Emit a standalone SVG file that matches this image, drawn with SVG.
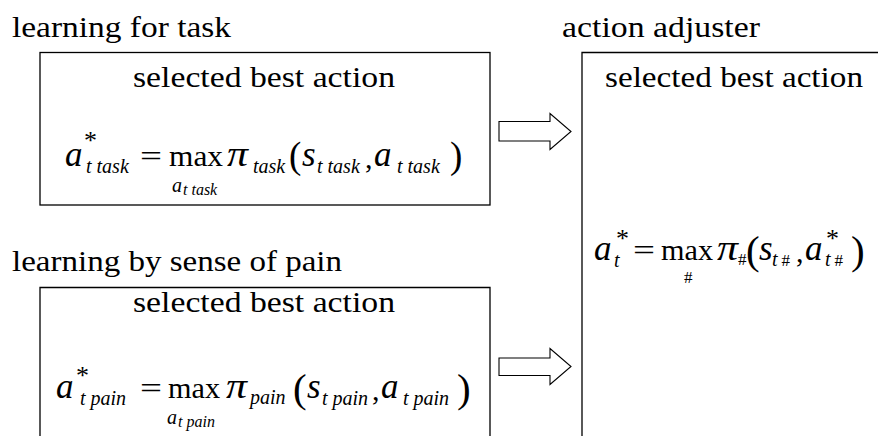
<svg xmlns="http://www.w3.org/2000/svg" width="878" height="436" viewBox="0 0 878 436">
<style>
text{font-family:'Liberation Serif','Times New Roman',serif;fill:#000}
.t{font-size:29px}
.m{font-size:30px}
.v{font-size:35px;font-style:italic}
.s{font-size:20px;font-style:italic}
.ss{font-size:16px;font-style:italic}
.h{font-size:17px;font-style:normal}
.st{font-size:26px;font-style:normal}
.p{font-size:37px}
.pb{font-size:41px}
.box{fill:none;stroke:#000;stroke-width:1.3}
.arr{fill:#fff;stroke:#000;stroke-width:1.1}
</style>
<rect width="878" height="436" fill="#fff"/>
<g id="task">
<text class="t" x="12" y="37" textLength="219" lengthAdjust="spacingAndGlyphs">learning for task</text>
<rect class="box" x="40" y="52.5" width="450" height="152.5"/>
<text class="t" x="133" y="87" textLength="262" lengthAdjust="spacingAndGlyphs">selected best action</text>
<text class="v" x="65" y="166">a</text>
<text class="s" x="86" y="173">t task<tspan class="st" x="84" y="149">*</tspan></text>
<text class="m" x="140" y="166" textLength="22" lengthAdjust="spacingAndGlyphs">=</text>
<text class="m" x="169" y="166" textLength="54" lengthAdjust="spacingAndGlyphs">max</text>
<text class="s" x="172" y="192">a</text>
<text class="ss" x="183" y="195">t task</text>
<text class="v" x="227" y="166" textLength="21" lengthAdjust="spacingAndGlyphs">π</text>
<text class="s" x="253" y="173">task</text>
<text class="p" x="289" y="168">(</text>
<text class="v" x="302" y="166">s</text>
<text class="s" x="317" y="173">t task</text>
<text class="m" x="365" y="168">,</text>
<text class="v" x="374" y="166">a</text>
<text class="s" x="397" y="173">t task</text>
<text class="p" x="450" y="168">)</text>
</g>
<g id="pain">
<text class="t" x="12" y="271" textLength="330" lengthAdjust="spacingAndGlyphs">learning by sense of pain</text>
<path class="box" d="M40 437 V287.5 H490 V437"/>
<text class="t" x="133" y="312" textLength="262" lengthAdjust="spacingAndGlyphs">selected best action</text>
<text class="v" x="56" y="398">a</text>
<text class="s" x="80" y="405">t pain<tspan class="st" x="76" y="384">*</tspan></text>
<text class="m" x="140" y="398" textLength="22" lengthAdjust="spacingAndGlyphs">=</text>
<text class="m" x="168" y="398" textLength="52" lengthAdjust="spacingAndGlyphs">max</text>
<text class="s" x="167" y="424">a</text>
<text class="ss" x="178" y="427">t pain</text>
<text class="v" x="226" y="398" textLength="21" lengthAdjust="spacingAndGlyphs">π</text>
<text class="s" x="250" y="404">pain</text>
<text class="pb" x="293" y="402">(</text>
<text class="v" x="307" y="398">s</text>
<text class="s" x="322" y="405">t pain</text>
<text class="m" x="372" y="400">,</text>
<text class="v" x="381" y="398">a</text>
<text class="s" x="403" y="405">t pain</text>
<text class="pb" x="457" y="402">)</text>
</g>
<g id="adjuster">
<text class="t" x="562" y="37" textLength="198" lengthAdjust="spacingAndGlyphs">action adjuster</text>
<path class="box" d="M582 437 V52.5 H879"/>
<text class="t" x="605" y="87" textLength="258" lengthAdjust="spacingAndGlyphs">selected best action</text>
<text class="v" x="594" y="260">a</text>
<text class="s" x="614" y="267">t<tspan class="st" x="616" y="247">*</tspan></text>
<text class="m" x="633" y="260" textLength="22" lengthAdjust="spacingAndGlyphs">=</text>
<text class="m" x="661" y="260" textLength="52" lengthAdjust="spacingAndGlyphs">max</text>
<text class="h" x="684" y="283">#</text>
<text class="v" x="717" y="260" textLength="21" lengthAdjust="spacingAndGlyphs">π</text>
<text class="h" x="738" y="265">#</text>
<text class="pb" x="746" y="264">(</text>
<text class="v" x="759" y="260">s</text>
<text class="s" x="772" y="266">t<tspan class="h" dx="4">#</tspan></text>
<text class="m" x="796" y="262">,</text>
<text class="v" x="805" y="260">a</text>
<text class="s" x="825" y="266">t<tspan class="h" dx="4">#</tspan><tspan class="st" x="826" y="247">*</tspan></text>
<text class="pb" x="851" y="264">)</text>
</g>
<g id="connectors">
<path class="arr" d="M499 121.5 H550 V113.5 L571 131.5 L550 149.5 V141 H499 Z"/>
<path class="arr" d="M499 358 H550 V348.5 L571 366.5 L550 384.5 V375.5 H499 Z"/>
</g>
</svg>
